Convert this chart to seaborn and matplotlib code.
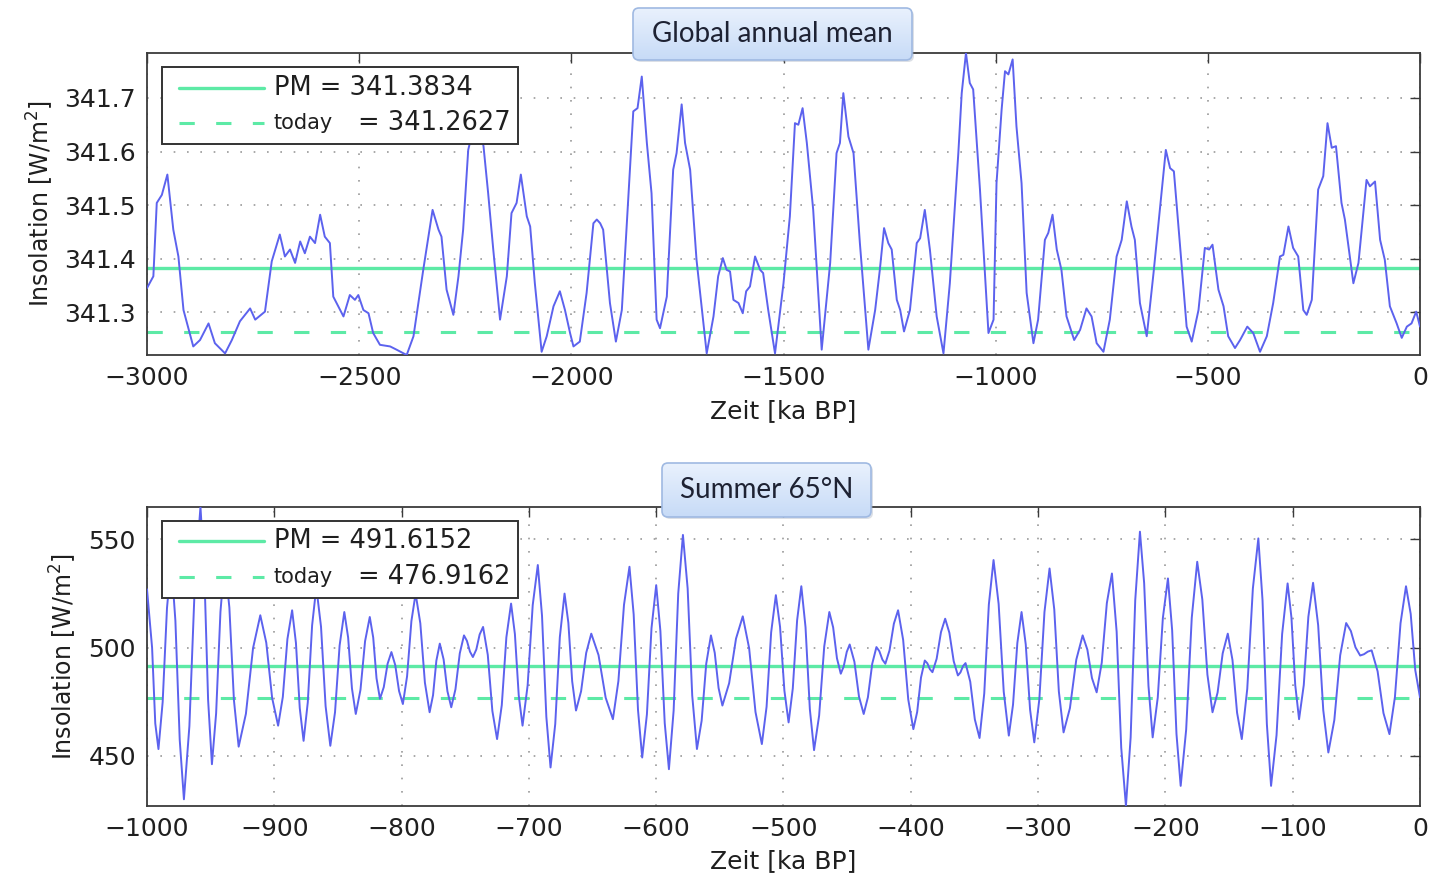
import numpy as np
import pandas as pd
import seaborn as sns
import matplotlib
matplotlib.use("Agg")
import matplotlib.pyplot as plt
from matplotlib.lines import Line2D
from matplotlib.patches import FancyBboxPatch
from matplotlib.ticker import FormatStrFormatter
from matplotlib.offsetbox import (AnchoredOffsetbox, DrawingArea, TextArea,
                                  HPacker, VPacker)

# ---------------------------------------------------------------- data
# Global annual mean insolation, last 3 Ma (time in ka BP, W/m^2)
global_time = [
    -3000, -2985, -2977, -2965, -2952, -2938, -2926, -2914, -2891, -2875,
    -2855, -2840, -2816, -2800, -2781, -2757, -2745, -2722, -2706, -2687,
    -2675, -2663, -2651, -2639, -2628, -2616, -2604, -2592, -2581, -2569,
    -2561, -2537, -2522, -2510, -2502, -2490, -2478, -2467, -2451, -2427,
    -2412, -2388, -2372, -2349, -2327, -2313, -2306, -2294, -2278, -2266,
    -2255, -2243, -2223, -2207, -2196, -2184, -2168, -2152, -2141, -2129,
    -2119, -2105, -2097, -2086, -2070, -2058, -2042, -2027, -2015, -2003,
    -1995, -1980, -1964, -1948, -1940, -1932, -1925, -1909, -1895, -1881,
    -1870, -1854, -1844, -1834, -1822, -1811, -1799, -1791, -1775, -1760,
    -1752, -1740, -1732, -1720, -1705, -1681, -1665, -1654, -1643, -1634,
    -1626, -1618, -1606, -1596, -1588, -1579, -1567, -1555, -1548, -1536,
    -1520, -1500, -1485, -1473, -1465, -1455, -1445, -1430, -1410, -1390,
    -1375, -1367, -1359, -1347, -1335, -1320, -1300, -1284, -1273, -1263,
    -1253, -1245, -1233, -1225, -1216, -1202, -1186, -1178, -1167, -1155,
    -1139, -1123, -1108, -1088, -1080, -1070, -1061, -1053, -1037, -1017,
    -1005, -998, -986, -978, -970, -960, -951, -939, -927, -911,
    -900, -884, -876, -866, -856, -845, -833, -815, -801, -786,
    -774, -762, -746, -731, -715, -703, -691, -680, -672, -660,
    -644, -628, -613, -599, -589, -580, -566, -550, -538, -522,
    -507, -497, -489, -475, -463, -452, -436, -424, -407, -393,
    -377, -361, -346, -330, -322, -310, -299, -287, -275, -267,
    -255, -240, -228, -218, -208, -198, -185, -177, -157, -145,
    -126, -118, -106, -94, -83, -71, -55, -43, -31, -20,
    -9, 0,
]
global_insolation = [
    341.345, 341.367, 341.504, 341.519, 341.557, 341.454, 341.404, 341.304, 341.236, 341.248,
    341.279, 341.242, 341.223, 341.248, 341.283, 341.307, 341.286, 341.301, 341.395, 341.445,
    341.404, 341.417, 341.392, 341.432, 341.410, 341.441, 341.429, 341.482, 341.441, 341.429,
    341.329, 341.292, 341.332, 341.323, 341.332, 341.304, 341.298, 341.261, 341.239, 341.236,
    341.230, 341.220, 341.255, 341.379, 341.491, 341.454, 341.441, 341.342, 341.295, 341.367,
    341.454, 341.603, 341.670, 341.610, 341.522, 341.417, 341.286, 341.367, 341.485, 341.504,
    341.557, 341.479, 341.460, 341.354, 341.226, 341.255, 341.311, 341.339, 341.304, 341.261,
    341.236, 341.245, 341.336, 341.466, 341.473, 341.466, 341.454, 341.317, 341.245, 341.304,
    341.454, 341.675, 341.681, 341.740, 341.616, 341.522, 341.286, 341.270, 341.329, 341.566,
    341.597, 341.688, 341.616, 341.566, 341.398, 341.223, 341.292, 341.367, 341.401, 341.379,
    341.376, 341.323, 341.317, 341.298, 341.339, 341.348, 341.404, 341.379, 341.373, 341.304,
    341.223, 341.354, 341.479, 341.653, 341.650, 341.681, 341.616, 341.491, 341.230, 341.392,
    341.597, 341.616, 341.709, 341.628, 341.597, 341.429, 341.230, 341.304, 341.379, 341.457,
    341.429, 341.417, 341.323, 341.304, 341.264, 341.304, 341.429, 341.438, 341.491, 341.417,
    341.292, 341.223, 341.354, 341.597, 341.709, 341.784, 341.728, 341.716, 341.529, 341.261,
    341.286, 341.541, 341.678, 341.750, 341.744, 341.772, 341.647, 341.541, 341.336, 341.242,
    341.286, 341.435, 341.448, 341.482, 341.417, 341.379, 341.292, 341.248, 341.267, 341.307,
    341.292, 341.242, 341.226, 341.286, 341.404, 341.435, 341.507, 341.460, 341.435, 341.317,
    341.255, 341.373, 341.491, 341.603, 341.569, 341.563, 341.429, 341.273, 341.245, 341.304,
    341.420, 341.417, 341.426, 341.342, 341.311, 341.255, 341.233, 341.248, 341.273, 341.261,
    341.226, 341.255, 341.317, 341.404, 341.407, 341.460, 341.420, 341.404, 341.304, 341.295,
    341.323, 341.529, 341.554, 341.653, 341.607, 341.610, 341.504, 341.473, 341.354, 341.392,
    341.547, 341.535, 341.544, 341.435, 341.398, 341.311, 341.279, 341.252, 341.273, 341.279,
    341.301, 341.273,
]

# Summer insolation at 65 N, last 1 Ma (time in ka BP, W/m^2)
summer_time = [
    -1000, -996, -993.5, -991, -987.7, -984.3, -981, -977.7, -974.3, -971, -966.7, -962.3,
    -958, -955, -952, -949, -945.7, -942.3, -939, -935.3, -931.7, -928, -922.3, -916.7,
    -911, -906.3, -901.7, -897, -893.3, -889.7, -886, -883, -880, -877, -873.7, -870.3,
    -867, -863.3, -859.7, -856, -852.3, -848.7, -845, -842, -839, -836, -832.3, -828.7,
    -825, -822.3, -819.7, -817, -814, -811, -808, -805, -802, -799, -795.7, -792.3,
    -789, -785.3, -781.7, -778, -775.3, -772.7, -770, -767, -764, -761, -757.7, -754.3,
    -751, -748.7, -746.3, -744, -741.3, -738.7, -736, -732.3, -728.7, -725, -721.3, -717.7,
    -714, -711, -708, -705, -701, -697, -693, -689.7, -686.3, -683, -679.3, -675.7,
    -672, -669, -666, -663, -659, -655, -651, -645.3, -639.7, -634, -629.7, -625.3,
    -621, -617.7, -614.3, -611, -607.3, -603.7, -600, -596.7, -593.3, -590, -586.3, -582.7,
    -579, -575.3, -571.7, -568, -564.3, -560.7, -557, -554, -551, -548, -542.7, -537.3,
    -532, -527, -522, -517, -513.3, -509.7, -506, -502.7, -499.3, -496, -492.7, -489.3,
    -486, -482.7, -479.3, -476, -472, -468, -464, -461, -458, -455, -452.7, -450.3,
    -448, -444.3, -440.7, -437, -433.7, -430.3, -427, -424.7, -422.3, -420, -416.7, -413.3,
    -410, -406, -402, -398, -395, -392, -389, -387, -385, -383, -379.7, -376.3,
    -373, -369.7, -366.3, -363, -361, -359, -357, -353.3, -349.7, -346, -342.3, -338.7,
    -335, -331, -327, -323, -319.7, -316.3, -313, -309.7, -306.3, -303, -299, -295,
    -291, -287.3, -283.7, -280, -275, -270, -265, -261.3, -257.7, -254, -250, -246,
    -242, -238.3, -234.7, -231, -227.3, -223.7, -220, -216.7, -213.3, -210, -206, -202,
    -198, -194.7, -191.3, -188, -183.7, -179.3, -175, -171, -167, -163, -159, -155,
    -151, -147.3, -143.7, -140, -135.7, -131.3, -127, -123.7, -120.3, -117, -112.7, -108.3,
    -104, -101, -98, -95, -91.3, -87.7, -84, -80, -76, -72, -67.3, -62.7,
    -58, -54.3, -50.7, -47, -44, -41, -38, -33.3, -28.7, -24, -19.7, -15.3,
    -11, -7.3, -3.7, 0,
]
summer_insolation = [
    527.0, 500.0, 465.0, 453.2, 474.9, 518.3, 540.0, 512.5, 457.5, 430.0, 463.8, 531.3,
    565.0, 535.3, 475.9, 446.2, 469.7, 516.6, 540.0, 518.6, 475.7, 454.3, 469.5, 499.8,
    515.0, 502.3, 476.8, 464.0, 477.3, 504.0, 517.3, 502.2, 472.1, 457.0, 474.8, 510.3,
    528.0, 509.7, 473.0, 454.7, 470.2, 501.0, 516.5, 504.7, 481.2, 469.4, 480.6, 503.0,
    514.2, 504.7, 485.9, 476.4, 481.8, 492.6, 498.0, 492.0, 480.0, 474.0, 486.8, 512.3,
    525.0, 511.3, 483.9, 470.2, 478.1, 494.0, 501.9, 494.6, 479.9, 472.5, 480.8, 497.4,
    505.7, 503.2, 498.2, 495.7, 499.2, 506.1, 509.6, 496.7, 470.8, 457.8, 473.5, 504.8,
    520.4, 506.3, 478.1, 464.0, 482.6, 519.7, 538.2, 514.8, 468.1, 444.7, 464.8, 504.9,
    525.0, 511.5, 484.5, 471.0, 479.9, 497.6, 506.5, 496.6, 476.9, 467.0, 484.6, 519.8,
    537.4, 515.4, 471.3, 449.3, 469.2, 509.0, 528.9, 507.7, 465.2, 443.9, 471.0, 525.0,
    552.1, 527.4, 477.9, 453.2, 466.3, 492.6, 505.7, 497.6, 481.4, 473.3, 483.6, 504.2,
    514.5, 499.8, 470.3, 455.5, 472.7, 507.1, 524.3, 509.6, 480.2, 465.5, 481.2, 512.7,
    528.4, 509.5, 471.6, 452.7, 468.7, 500.6, 516.5, 509.4, 495.1, 488.0, 491.4, 498.1,
    501.5, 493.5, 477.4, 469.4, 477.1, 492.6, 500.3, 498.4, 494.5, 492.6, 498.8, 511.1,
    517.3, 503.6, 476.1, 462.4, 470.3, 486.2, 494.1, 492.8, 490.1, 488.7, 494.9, 507.2,
    513.4, 506.9, 493.8, 487.2, 488.6, 491.5, 492.9, 484.3, 466.9, 458.3, 478.9, 519.9,
    540.5, 520.2, 479.7, 459.4, 473.7, 502.2, 516.5, 501.5, 471.4, 456.3, 476.4, 516.5,
    536.6, 517.7, 479.8, 460.9, 472.1, 494.5, 505.7, 499.1, 486.0, 479.4, 493.1, 520.6,
    534.3, 507.4, 453.8, 426.9, 458.6, 521.9, 553.6, 529.9, 482.4, 458.6, 477.0, 513.7,
    532.0, 508.1, 460.2, 436.2, 462.1, 513.8, 539.7, 522.3, 487.6, 470.2, 479.3, 497.4,
    506.5, 494.3, 470.0, 457.8, 481.0, 527.3, 550.5, 521.9, 464.8, 436.2, 459.6, 506.3,
    529.7, 514.0, 482.7, 467.0, 482.8, 514.3, 530.0, 510.4, 471.2, 451.6, 466.6, 496.5,
    511.4, 507.7, 500.2, 496.4, 497.0, 498.2, 498.8, 489.1, 469.8, 460.1, 477.2, 511.3,
    528.4, 515.6, 489.6, 477.1,
]

panel_titles = ["Global annual mean", "Summer 65\u00b0N"]
pm_values = [341.3834, 491.6152]       # pre-modern mean
today_values = [341.2627, 476.9162]    # present-day value
xticks_global = [-3000, -2500, -2000, -1500, -1000, -500, 0]
yticks_global = [341.3, 341.4, 341.5, 341.6, 341.7]
xticks_summer = [-1000, -900, -800, -700, -600, -500, -400, -300, -200, -100, 0]
yticks_summer = [450, 500, 550]

# ---------------------------------------------------------------- style
sns.set_theme(style="white")
plt.rcParams['font.family'] = ['DejaVu Sans']
plt.rcParams['axes.unicode_minus'] = True

BLUE = "#5c62ee"
GREEN = "#5deaa6"
TXT = "#1f1f1f"
FRAME = "#3a3a3a"
W, H = 1435, 880

fig = plt.figure(figsize=(W / 100, H / 100), dpi=100)
fig.patch.set_facecolor("white")


def fig_rect(left, top, width, height):
    """Pixel box (from top-left) -> figure fraction rect."""
    return [left / W, 1 - (top + height) / H, width / W, height / H]


ax1 = fig.add_axes(fig_rect(147, 53, 1273, 302))
ax2 = fig.add_axes(fig_rect(147, 507, 1273, 299))

df_global = pd.DataFrame({"t": global_time, "ins": global_insolation})
df_summer = pd.DataFrame({"t": summer_time, "ins": summer_insolation})


def draw_panel(ax, df, pm, today, xticks, yticks, yfmt, ylabel_x):
    sns.lineplot(data=df, x="t", y="ins", ax=ax, color=BLUE, linewidth=1.4,
                 zorder=3)
    ax.axhline(pm, color=GREEN, linewidth=2.4, zorder=2)
    ax.axhline(today, color=GREEN, linewidth=2.2, linestyle=(0, (5, 7)),
               zorder=2)
    ax.set_xlim(df["t"].min(), df["t"].max())
    ax.set_ylim(df["ins"].min(), df["ins"].max())
    ax.set_xticks(xticks)
    ax.set_yticks(yticks)
    ax.yaxis.set_major_formatter(FormatStrFormatter(yfmt))
    ax.grid(True, color="#9a9a9a", linewidth=1.2, linestyle=(0, (1, 7)))
    ax.tick_params(which="both", direction="in", top=True, right=True,
                   length=7, width=1.0, color=FRAME, labelsize=18,
                   labelcolor=TXT, pad=8)
    for s in ax.spines.values():
        s.set_color(FRAME)
        s.set_linewidth(1.3)
    ax.set_xlabel("Zeit [ka BP]", fontsize=18, color=TXT)
    ax.set_ylabel("Insolation [W/m$^2$]", fontsize=17, color=TXT)
    ax.xaxis.set_label_coords(0.5, -0.145)
    ax.yaxis.set_label_coords(ylabel_x, 0.5)

    # legend: solid PM line, dashed present-day line
    def sample(ls, lw):
        da = DrawingArea(61, 14, 0, 0)
        da.add_artist(Line2D([0, 61], [7, 7], color=GREEN, lw=lw, ls=ls))
        return da

    def spacer():
        return DrawingArea(0, 14, 0, 0)

    t1 = TextArea(f"PM = {pm:.4f}", textprops=dict(size=18.5, color=TXT))
    t2a = TextArea("today", textprops=dict(size=15, color=TXT))
    t2b = TextArea(f"= {today:.4f}", textprops=dict(size=18.5, color=TXT))
    row1 = HPacker(children=[spacer(), sample("-", 2.4), t1], sep=7,
                   align="center")
    row2 = HPacker(children=[spacer(), sample((0, (5, 7)), 2.2),
                             HPacker(children=[t2a, t2b], sep=18,
                                     align="center")],
                   sep=7, align="center")
    box = VPacker(children=[row1, row2], sep=7, align="left")
    anch = AnchoredOffsetbox(loc="upper left", child=box, pad=0.5,
                             borderpad=0, frameon=True,
                             bbox_to_anchor=(15 / 1273, 1 - 14 / 302),
                             bbox_transform=ax.transAxes)
    anch.patch.set_edgecolor("#333333")
    anch.patch.set_linewidth(1.4)
    anch.patch.set_facecolor("white")
    anch.patch.set_boxstyle("square", pad=0)
    anch.set_zorder(5)
    ax.add_artist(anch)


draw_panel(ax1, df_global, pm_values[0], today_values[0], xticks_global,
           yticks_global, "%.1f", -0.0715)
draw_panel(ax2, df_summer, pm_values[1], today_values[1], xticks_summer,
           yticks_summer, "%d", -0.0534)


def title_box(title, left, top, width, height):
    tax = fig.add_axes(fig_rect(left - 3, top - 3, width + 8, height + 8))
    tax.set_xlim(-3, width + 5)
    tax.set_ylim(-5, height + 3)
    tax.axis("off")
    shadow = FancyBboxPatch((2, -2), width, height,
                            boxstyle="round,pad=0,rounding_size=6",
                            fc="#9aa6b8", ec="none", alpha=0.35)
    tax.add_patch(shadow)
    grad = np.linspace(0, 1, 64).reshape(-1, 1)
    cmap = matplotlib.colors.LinearSegmentedColormap.from_list(
        "tb", ["#c7dbf7", "#e9f1fd"])
    frame = FancyBboxPatch((0, 0), width, height,
                           boxstyle="round,pad=0,rounding_size=6",
                           fc="none", ec="#9fb9e2", lw=1.2)
    im = tax.imshow(grad, extent=(0, width, 0, height), origin="lower",
                    cmap=cmap, aspect="auto", zorder=1)
    tax.add_patch(frame)
    im.set_clip_path(frame)
    frame.set_zorder(2)
    tax.text(width / 2, height / 2, title, ha="center", va="center",
             fontsize=20, color="#1e2233", family=["Lato", "DejaVu Sans"],
             zorder=3)


title_box(panel_titles[0], 633, 8, 279, 52)
title_box(panel_titles[1], 662, 463, 209, 54)

fig.savefig("out.png", dpi=100, facecolor="white")
